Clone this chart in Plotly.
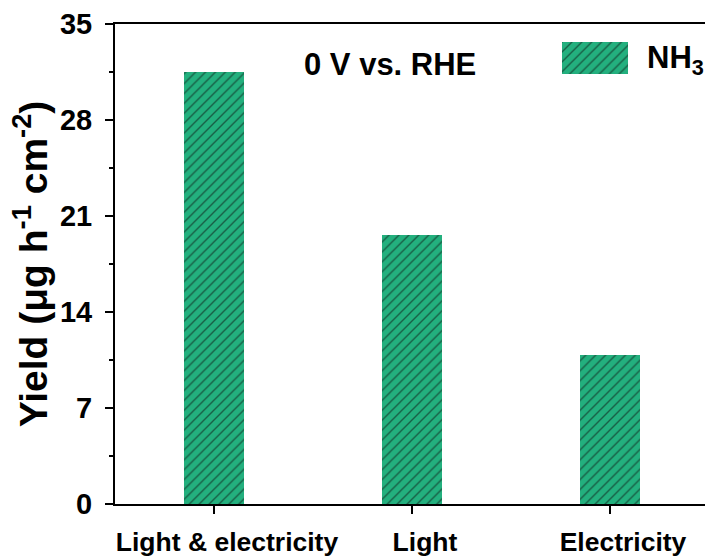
import plotly.graph_objects as go

# Data
categories = ["Light & electricity", "Light", "Electricity"]
yield_nh3 = [31.5, 19.6, 10.85]
y_ticks = [0, 7, 14, 21, 28, 35]

FONT = "Liberation Sans, Arial, sans-serif"
BAR_COLOR = "#23B07E"
HATCH = dict(shape="/", fgcolor="#0d0d0d", bgcolor=BAR_COLOR, size=7, solidity=0.2)

fig = go.Figure()

fig.add_trace(go.Bar(
    x=categories, y=yield_nh3, width=0.3,
    marker=dict(color=BAR_COLOR, pattern=HATCH, line=dict(width=0)),
    showlegend=False,
))

# Legend swatch drawn as a hatched bar on its own small axes
fig.add_trace(go.Bar(
    x=[0.5], y=[1], width=1, xaxis="x2", yaxis="y2",
    marker=dict(color=BAR_COLOR, pattern=HATCH, line=dict(width=0)),
    showlegend=False, hoverinfo="skip",
))

W, H = 705, 559
ml, mr, mt, mb = 115, 0, 24, 55
pw, ph = W - ml - mr, H - mt - mb

def fx(px):
    return (px - ml) / pw

def fy(py):
    return (H - mb - py) / ph

fig.update_layout(
    width=W, height=H,
    margin=dict(l=ml, r=mr, t=mt, b=mb),
    paper_bgcolor="white", plot_bgcolor="white",
    font=dict(family=FONT, color="black"),
    bargap=0,
    xaxis=dict(
        type="category", range=[-0.5, 2.48],
        showline=True, linecolor="black", linewidth=2, mirror=True,
        ticks="outside", ticklen=8, tickwidth=2, tickcolor="black",
        tickfont=dict(family=FONT, size=26.5, color="black", weight="bold"),
        ticklabelshift=13, ticklabelstandoff=5,
        showgrid=False, zeroline=False,
    ),
    yaxis=dict(
        range=[0, 35], tickvals=y_ticks,
        showline=True, linecolor="black", linewidth=2,
        ticks="outside", ticklen=8, tickwidth=2, tickcolor="black",
        minor=dict(dtick=3.5, ticks="outside", ticklen=4, tickwidth=2, tickcolor="black"),
        tickfont=dict(family=FONT, size=29, color="black", weight="bold"),
        ticklabelstandoff=7,
        showgrid=False, zeroline=False,
        title=dict(
            text="Yield (μg h<sup>-1</sup> cm<sup>-2</sup>)",
            font=dict(family=FONT, size=39, color="black", weight="bold"),
            standoff=0,
        ),
    ),
    xaxis2=dict(domain=[fx(562), fx(628)], range=[0, 1], anchor="y2",
                visible=False, fixedrange=True),
    yaxis2=dict(domain=[fy(74), fy(42)], range=[0, 1], anchor="x2",
                visible=False, fixedrange=True),
    annotations=[
        dict(text="0 V vs. RHE", x=fx(390), y=fy(64), xref="paper", yref="paper",
             xanchor="center", yanchor="middle", showarrow=False,
             font=dict(family=FONT, size=31, color="black", weight="bold")),
        dict(text="NH<sub>3</sub>", x=fx(645), y=fy(60), xref="paper", yref="paper",
             xanchor="left", yanchor="middle", showarrow=False,
             font=dict(family=FONT, size=31, color="black", weight="bold")),
    ],
)

fig.write_html("out.html")
